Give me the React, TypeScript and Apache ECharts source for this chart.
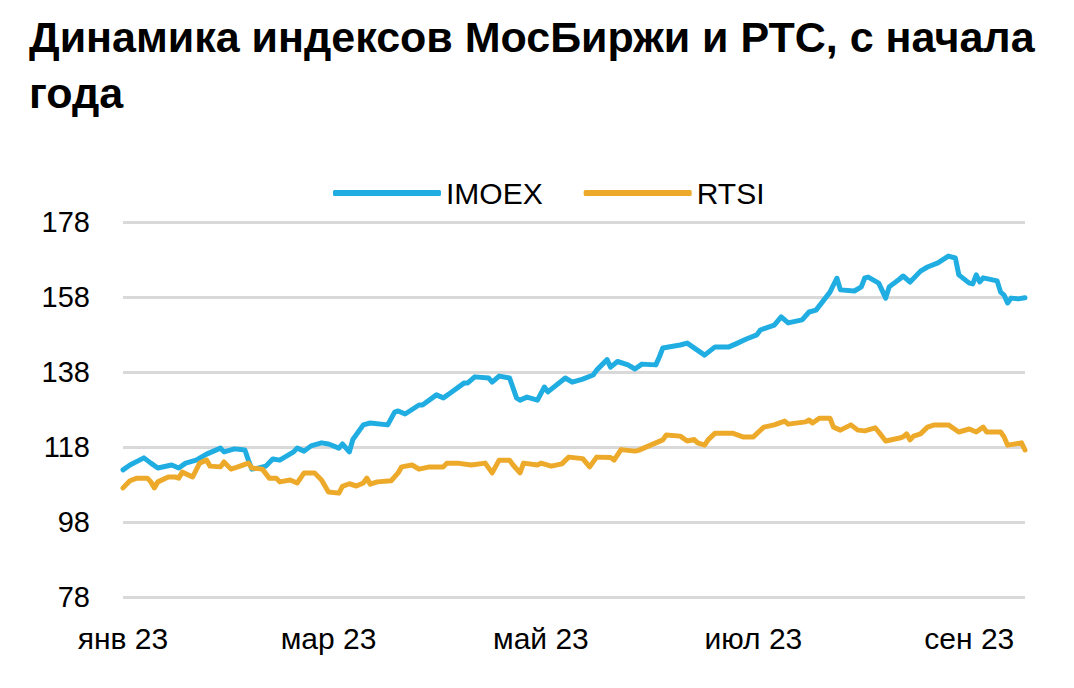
import React, { useEffect, useRef } from "react";
import * as echarts from "echarts";

const TITLE = "Динамика индексов МосБиржи и РТС, с начала\nгода";
const SERIES_NAMES = ["IMOEX", "RTSI"];
const MONTH_LABELS = ["янв", "фев", "мар", "апр", "май", "июн", "июл", "авг", "сен", "окт", "ноя", "дек"];
const Y_MIN = 78;
const Y_MAX = 178;
const Y_STEP = 20;
const X_MIN = "2023-01-01";
const X_MAX = "2023-09-17";

const imoex: [string, number][] = [
  ["2023-01-01", 111.9], ["2023-01-03", 113.2], ["2023-01-07", 115.1], ["2023-01-09", 113.7],
  ["2023-01-11", 112.4], ["2023-01-15", 113.2], ["2023-01-17", 112.4], ["2023-01-19", 113.7],
  ["2023-01-22", 114.5], ["2023-01-25", 116.1], ["2023-01-29", 117.7], ["2023-01-30", 116.7],
  ["2023-02-02", 117.5], ["2023-02-05", 117.2], ["2023-02-06", 114.5], ["2023-02-07", 112.1],
  ["2023-02-09", 112.4], ["2023-02-11", 112.9], ["2023-02-13", 114.8], ["2023-02-15", 114.5],
  ["2023-02-19", 116.7], ["2023-02-20", 117.7], ["2023-02-22", 116.9], ["2023-02-24", 118.3],
  ["2023-02-27", 119.1], ["2023-03-01", 118.8], ["2023-03-04", 117.7], ["2023-03-05", 118.8],
  ["2023-03-07", 116.7], ["2023-03-08", 120.0], ["2023-03-11", 123.9], ["2023-03-13", 124.4],
  ["2023-03-18", 123.9], ["2023-03-20", 127.3], ["2023-03-21", 127.6], ["2023-03-23", 126.8],
  ["2023-03-27", 129.2], ["2023-03-28", 129.2], ["2023-04-01", 131.9], ["2023-04-03", 131.1],
  ["2023-04-05", 132.4], ["2023-04-09", 135.1], ["2023-04-10", 135.1], ["2023-04-12", 136.7],
  ["2023-04-16", 136.4], ["2023-04-17", 135.3], ["2023-04-19", 136.9], ["2023-04-22", 136.4],
  ["2023-04-24", 131.1], ["2023-04-25", 130.5], ["2023-04-27", 131.3], ["2023-04-30", 130.5],
  ["2023-05-02", 134.0], ["2023-05-03", 132.7], ["2023-05-08", 136.4], ["2023-05-10", 135.3],
  ["2023-05-13", 136.1], ["2023-05-16", 137.2], ["2023-05-17", 138.5], ["2023-05-20", 141.3],
  ["2023-05-21", 139.3], ["2023-05-23", 140.8], ["2023-05-26", 139.9], ["2023-05-28", 138.8],
  ["2023-05-30", 140.1], ["2023-06-03", 139.9], ["2023-06-04", 142.0], ["2023-06-05", 144.4],
  ["2023-06-10", 145.2], ["2023-06-12", 145.7], ["2023-06-17", 142.5], ["2023-06-20", 144.7],
  ["2023-06-24", 144.7], ["2023-06-26", 145.5], ["2023-06-29", 146.8], ["2023-07-02", 147.9],
  ["2023-07-03", 149.2], ["2023-07-07", 150.5], ["2023-07-09", 152.7], ["2023-07-11", 151.1],
  ["2023-07-15", 151.9], ["2023-07-17", 154.0], ["2023-07-19", 154.5], ["2023-07-23", 159.3],
  ["2023-07-24", 161.2], ["2023-07-25", 163.0], ["2023-07-26", 159.9], ["2023-07-30", 159.6],
  ["2023-08-01", 160.7], ["2023-08-02", 163.1], ["2023-08-03", 163.3], ["2023-08-06", 161.7],
  ["2023-08-08", 157.7], ["2023-08-09", 160.7], ["2023-08-12", 162.8], ["2023-08-13", 163.6],
  ["2023-08-15", 162.0], ["2023-08-18", 164.9], ["2023-08-20", 166.0], ["2023-08-23", 167.1],
  ["2023-08-26", 168.9], ["2023-08-28", 168.4], ["2023-08-29", 163.9], ["2023-09-01", 161.7],
  ["2023-09-02", 161.5], ["2023-09-03", 163.9], ["2023-09-04", 162.0], ["2023-09-05", 163.1],
  ["2023-09-09", 162.3], ["2023-09-10", 159.3], ["2023-09-11", 158.5], ["2023-09-12", 156.4],
  ["2023-09-13", 157.7], ["2023-09-15", 157.5], ["2023-09-17", 157.8],
];

const rtsi: [string, number][] = [
  ["2023-01-01", 107.1], ["2023-01-03", 109.0], ["2023-01-05", 109.7], ["2023-01-08", 109.7],
  ["2023-01-09", 108.7], ["2023-01-10", 107.1], ["2023-01-11", 108.7], ["2023-01-14", 110.0],
  ["2023-01-16", 110.0], ["2023-01-17", 109.7], ["2023-01-18", 111.3], ["2023-01-21", 110.0],
  ["2023-01-23", 113.7], ["2023-01-25", 114.5], ["2023-01-26", 112.9], ["2023-01-29", 112.7],
  ["2023-01-30", 114.0], ["2023-02-01", 112.1], ["2023-02-03", 112.7], ["2023-02-06", 113.7],
  ["2023-02-07", 112.4], ["2023-02-10", 112.1], ["2023-02-12", 109.7], ["2023-02-14", 109.7],
  ["2023-02-15", 108.7], ["2023-02-18", 109.2], ["2023-02-20", 108.4], ["2023-02-22", 111.1],
  ["2023-02-25", 111.1], ["2023-02-27", 109.2], ["2023-03-01", 106.0], ["2023-03-04", 105.7],
  ["2023-03-05", 107.5], ["2023-03-07", 108.2], ["2023-03-09", 107.6], ["2023-03-11", 108.4],
  ["2023-03-12", 109.7], ["2023-03-13", 108.1], ["2023-03-15", 108.7], ["2023-03-19", 109.0],
  ["2023-03-21", 111.1], ["2023-03-22", 112.7], ["2023-03-25", 113.2], ["2023-03-27", 112.1],
  ["2023-03-30", 112.7], ["2023-04-03", 112.7], ["2023-04-04", 113.7], ["2023-04-07", 113.7],
  ["2023-04-11", 113.2], ["2023-04-15", 113.7], ["2023-04-17", 111.1], ["2023-04-19", 114.5],
  ["2023-04-22", 114.5], ["2023-04-23", 113.2], ["2023-04-25", 111.1], ["2023-04-26", 113.7],
  ["2023-04-30", 113.2], ["2023-05-01", 113.7], ["2023-05-04", 112.9], ["2023-05-07", 113.5],
  ["2023-05-09", 115.3], ["2023-05-13", 114.9], ["2023-05-15", 112.7], ["2023-05-17", 115.3],
  ["2023-05-21", 115.2], ["2023-05-22", 114.5], ["2023-05-24", 117.3], ["2023-05-28", 116.9],
  ["2023-05-29", 117.1], ["2023-06-03", 119.1], ["2023-06-05", 119.9], ["2023-06-06", 121.2],
  ["2023-06-10", 120.9], ["2023-06-12", 119.6], ["2023-06-14", 120.0], ["2023-06-15", 119.1],
  ["2023-06-17", 118.5], ["2023-06-18", 119.9], ["2023-06-20", 121.7], ["2023-06-25", 121.7],
  ["2023-06-28", 120.7], ["2023-07-01", 120.7], ["2023-07-04", 123.3], ["2023-07-07", 123.9],
  ["2023-07-10", 124.9], ["2023-07-11", 124.1], ["2023-07-16", 124.7], ["2023-07-17", 125.2],
  ["2023-07-18", 124.4], ["2023-07-20", 125.7], ["2023-07-23", 125.7], ["2023-07-24", 123.3],
  ["2023-07-26", 122.5], ["2023-07-29", 123.9], ["2023-07-31", 122.5], ["2023-08-02", 122.3],
  ["2023-08-05", 123.1], ["2023-08-06", 122.0], ["2023-08-08", 119.6], ["2023-08-12", 120.4],
  ["2023-08-13", 120.7], ["2023-08-14", 121.5], ["2023-08-15", 119.9], ["2023-08-16", 120.9],
  ["2023-08-18", 121.5], ["2023-08-20", 123.3], ["2023-08-22", 123.9], ["2023-08-26", 123.9],
  ["2023-08-29", 122.0], ["2023-09-01", 122.8], ["2023-09-03", 122.0], ["2023-09-05", 123.3],
  ["2023-09-06", 122.0], ["2023-09-10", 122.0], ["2023-09-11", 120.7], ["2023-09-12", 118.5],
  ["2023-09-16", 119.1], ["2023-09-17", 117.2],
];

const COLORS = ["#1FADE2", "#EDAA2A"];
const FONT = "'Liberation Sans', Arial, sans-serif";

export default function App() {
  const ref = useRef<HTMLDivElement>(null);
  useEffect(() => {
    if (!ref.current) return;
    const chart = echarts.init(ref.current, undefined, { renderer: "svg" });
    chart.setOption({
      animation: false,
      backgroundColor: "#ffffff",
      textStyle: { fontFamily: FONT },
      title: {
        text: TITLE,
        left: 24,
        top: 4,
        textStyle: {
          fontFamily: FONT,
          fontSize: 43,
          fontWeight: "bold",
          color: "#000000",
          lineHeight: 56,
        },
      },
      legend: {
        left: 328,
        top: 173,
        itemWidth: 108,
        itemHeight: 6,
        itemGap: 41,
        icon: "roundRect",
        textStyle: { fontFamily: FONT, fontSize: 30, color: "#000000", padding: [0, 0, 0, 0] },
        data: SERIES_NAMES,
      },
      grid: { left: 123, right: 49, top: 222, bottom: 91, containLabel: false },
      xAxis: {
        type: "time",
        min: X_MIN,
        max: X_MAX,
        axisLine: { show: false },
        axisTick: { show: false },
        splitLine: { show: false },
        axisLabel: {
          fontFamily: FONT,
          fontSize: 30,
          color: "#000000",
          margin: 26,
          hideOverlap: false,
          formatter: (value: number) => {
            const d = new Date(value);
            if (d.getDate() !== 1 || d.getMonth() % 2 !== 0) return "";
            return MONTH_LABELS[d.getMonth()] + " " + String(d.getFullYear()).slice(2);
          },
        },
      },
      yAxis: {
        type: "value",
        min: Y_MIN,
        max: Y_MAX,
        interval: Y_STEP,
        axisLine: { show: false },
        axisTick: { show: false },
        axisLabel: { fontFamily: FONT, fontSize: 29, color: "#000000", margin: 33 },
        splitLine: { lineStyle: { color: "#D9D9D9", width: 3 } },
      },
      series: [
        {
          name: SERIES_NAMES[0],
          type: "line",
          data: imoex,
          showSymbol: false,
          color: COLORS[0],
          lineStyle: { width: 5, color: COLORS[0], cap: "round", join: "round" },
        },
        {
          name: SERIES_NAMES[1],
          type: "line",
          data: rtsi,
          showSymbol: false,
          color: COLORS[1],
          lineStyle: { width: 5, color: COLORS[1], cap: "round", join: "round" },
        },
      ],
    });
    return () => chart.dispose();
  }, []);
  return (
    <div
      ref={ref}
      style={{ position: "fixed", left: 0, top: 0, width: 1074, height: 688, background: "#fff" }}
    />
  );
}
